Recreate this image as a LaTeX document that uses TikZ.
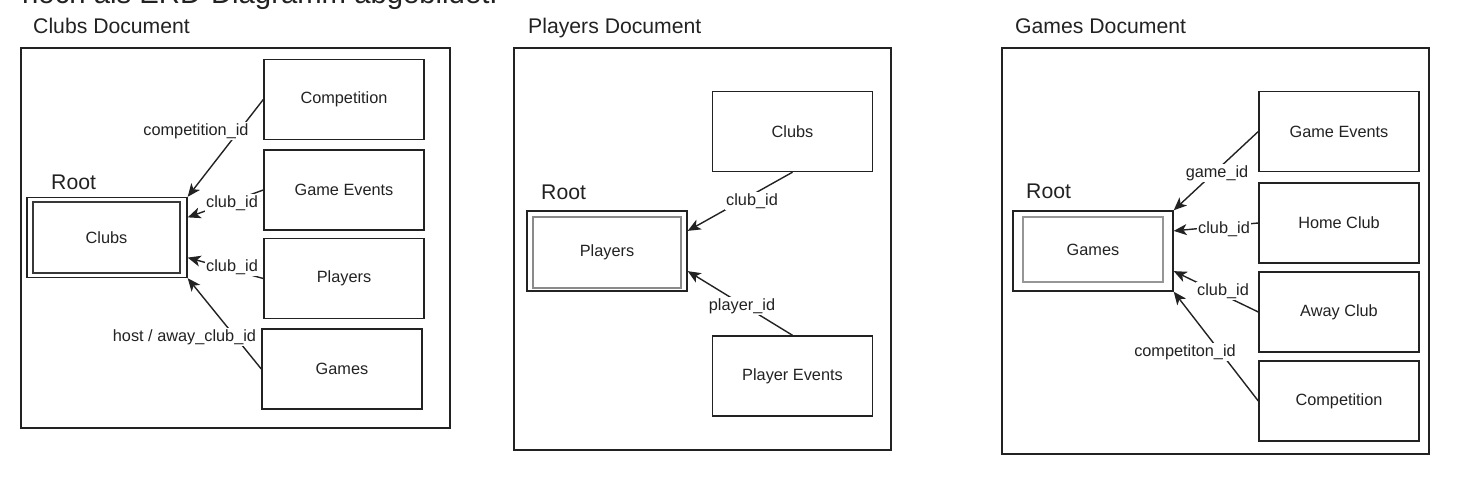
\documentclass[tikz,border=0pt]{standalone}
\usepackage{fontspec}
\setmainfont{Liberation Sans}
\usetikzlibrary{arrows.meta}
\definecolor{ink}{HTML}{222222}
\definecolor{innergray}{HTML}{8A8A8A}
\tikzset{>={Stealth[length=13pt,width=11pt,inset=3.5pt]}}
\tikzset{
  entity/.style={draw=ink, line width=1.4pt, minimum width=160pt, minimum height=80pt,
    inner sep=0pt, text=ink, font=\fontsize{16.3}{18}\selectfont},
  rootout/.style={draw=ink, line width=1.4pt, minimum width=160pt, minimum height=80pt, inner sep=0pt},
  rootin/.style={draw=#1, line width=2pt, inner sep=0pt, text=ink, font=\fontsize{16.3}{18}\selectfont},
  fk/.style={fill=white, inner sep=1pt, text=ink, font=\fontsize{16.3}{18}\selectfont},
  doctitle/.style={anchor=base west, inner sep=0pt, text=ink, font=\fontsize{21.2}{24}\selectfont},
  link/.style={->, draw=ink, line width=1.4pt}
}

\begin{document}
\begin{tikzpicture}[x=1pt, y=-1pt]
    \useasboundingbox (0,0) rectangle (1480,489);
    \clip (0,0) rectangle (1480,489);
    \node [anchor=base west, inner sep=0pt, text=ink, font=\fontsize{29.3}{32}\selectfont] (intro) at (22,3.5) {noch als ERD-Diagramm abgebildet.};

    % Clubs Document
    \node [doctitle] (clubsdoc) at (33,34) {Clubs Document};
    \draw [draw=ink, line width=1.4pt] (21,48) rectangle (450,428);
    \node [doctitle] (croottitle) at (51,190) {Root};
    \node [rootout] (croot) at (107,237.5) {};
    \node [rootin=ink!90, line width=1.5pt, minimum width=147pt, minimum height=71pt] (crootin) at (106.5,237.5) {Clubs};
    \node [entity] (ccomp) at (344,99.5) {Competition};
    \node [entity] (cge) at (344,190) {Game Events};
    \node [entity] (cpl) at (344,278.5) {Players};
    \node [entity] (cgames) at (342,369) {Games};
    \draw [link] (ccomp.west) -- (croot.north east);
    \draw [link] (cge.west) -- (croot.14);
    \draw [link] (cpl.west) -- (croot.-14);
    \draw [link] (cgames.west) -- (croot.south east);
    \node [fk] (ccompid) at (196,131) {competition\_id};
    \node [fk] (cgeid) at (232,203) {club\_id};
    \node [fk] (cplid) at (232,267) {club\_id};
    \node [fk] (cgamesid) at (184.5,337) {host / away\_club\_id};

    % Players Document
    \node [doctitle] (playersdoc) at (528,34) {Players Document};
    \draw [draw=ink, line width=1.4pt] (514,48) rectangle (891,450);
    \node [doctitle] (proottitle) at (541,200) {Root};
    \node [rootout] (proot) at (607,251) {};
    \node [rootin=innergray, minimum width=148pt, minimum height=71pt] (prootin) at (607,252.5) {Players};
    \node [entity] (pclubs) at (792.5,131.5) {Clubs};
    \node [entity] (pev) at (792.5,376) {Player Events};
    \draw [link] (pclubs.south) -- (proot.14);
    \draw [link] (pev.north) -- (proot.-14);
    \node [fk] (pclubid) at (752,201) {club\_id};
    \node [fk] (pplayerid) at (742,306) {player\_id};

    % Games Document
    \node [doctitle] (gamesdoc) at (1015,34) {Games Document};
    \draw [draw=ink, line width=1.4pt] (1002,48) rectangle (1429,454);
    \node [doctitle] (groottitle) at (1026,199) {Root};
    \node [rootout] (groot) at (1093,251) {};
    \node [rootin=innergray!90, line width=2.5pt, minimum width=140pt, minimum height=65pt] (grootin) at (1093,249.5) {Games};
    \node [entity] (gge) at (1339,131.5) {Game Events};
    \node [entity] (ghome) at (1339,223) {Home Club};
    \node [entity] (gaway) at (1339,312) {Away Club};
    \node [entity] (gcomp) at (1339,401) {Competition};
    \draw [link] (gge.west) -- (groot.north east);
    \draw [link] (ghome.west) -- (groot.14);
    \draw [link] (gaway.west) -- (groot.-14);
    \draw [link] (gcomp.west) -- (groot.south east);
    \node [fk] (ggameid) at (1217,173) {game\_id};
    \node [fk] (ghomeid) at (1224,229) {club\_id};
    \node [fk] (gawayid) at (1223,291) {club\_id};
    \node [fk] (gcompid) at (1185,352) {competiton\_id};
\end{tikzpicture}
\end{document}
